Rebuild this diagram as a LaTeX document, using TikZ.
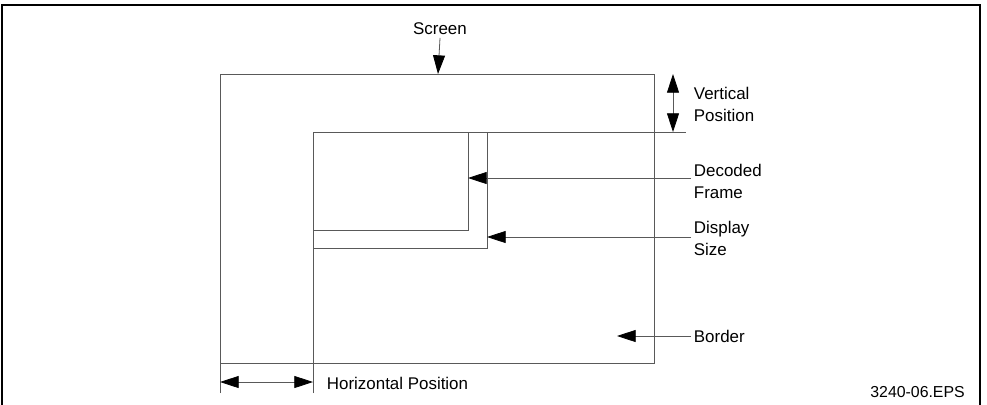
\documentclass[tikz,border=0pt]{standalone}
\usepackage{fontspec}
\setmainfont{Liberation Sans}
\usetikzlibrary{positioning,arrows.meta}

\begin{document}
\begin{tikzpicture}[
  x=0.75pt, y=-0.75pt,
  font=\fontsize{12.7}{16.5}\selectfont,
  >={Triangle[length=14pt, width=9pt, color=black]},
  edge/.style={draw=black!65, line width=0.6pt},
  pointer/.style={->, draw=black!65, line width=0.6pt},
  caption/.style={align=left, anchor=west, inner sep=2pt},
]
  \useasboundingbox (0,0) rectangle (987,404);
  % outer frame, open at the bottom
  \draw[line width=1.2pt] (2,420) -- (2,5) -- (980,5) -- (980,420);

  % corners of the screen and the picture areas
  \coordinate (scrNW) at (220,74);
  \coordinate (scrSE) at (654,363);
  \coordinate (dispNW) at (313,132);
  \coordinate (decSE) at (468,230);
  \coordinate (sizeSE) at (487,248);

  % screen, with its left side carried down
  \draw[edge] (scrNW |- 0,393) -- (scrNW) -| (scrSE) -| (scrNW);
  % display area: left side carried down, top carried right
  \draw[edge] (dispNW |- 0,393) -- (dispNW) -- (686,132);
  \draw[edge] (decSE |- dispNW) -- (decSE) -- (decSE -| dispNW);
  \draw[edge] (sizeSE |- dispNW) -- (sizeSE) -- (sizeSE -| dispNW);

  % labels
  \node[inner sep=2pt] (screen) at (440,29) {Screen};
  \node[caption] (vpos) at (691,104) {Vertical\\Position};
  \node[caption] (dec) at (691,181) {Decoded\\Frame};
  \node[caption] (size) at (691,238) {Display\\Size};
  \node[caption] (border) at (691,336) {Border};
  \node[caption] (hpos) at (324,383) {Horizontal Position};
  \node[anchor=east, inner sep=0pt, font=\fontsize{11.9}{14}\selectfont] (eps) at (965,392) {3240-06.EPS};

  % pointers
  \coordinate (scrTop) at (438,74);
  \coordinate (decTip) at (468,178);
  \coordinate (sizeTip) at (487,237);
  \coordinate (borderTip) at (617,336);
  \coordinate (vTop) at (673,74);
  \coordinate (vBot) at (673,132);
  \coordinate (hLeft) at (220,382);
  \coordinate (hRight) at (313,382);
  \draw[pointer] (screen.south) -- (scrTop);
  \draw[pointer] (dec.west |- decTip) -- (decTip);
  \draw[pointer] (size.west |- sizeTip) -- (sizeTip);
  \draw[pointer] (border.west) -- (borderTip);
  \draw[pointer, <->] (vTop) -- (vBot);
  \draw[pointer, <->] (hLeft) -- (hRight);
\end{tikzpicture}
\end{document}
